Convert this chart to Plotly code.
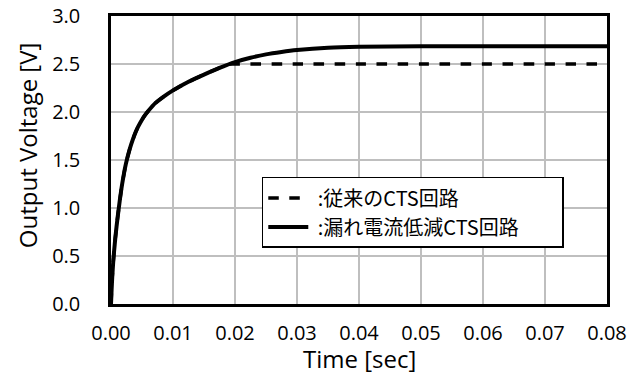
import plotly.graph_objects as go

# Time axis samples [sec] and output voltage [V]
t_solid = [0.0, 0.0001, 0.0002, 0.00035, 0.0005, 0.0007, 0.0009, 0.0011, 0.0014, 0.0018,
           0.0024, 0.003, 0.0035, 0.004, 0.0044, 0.005, 0.0054, 0.006, 0.0071, 0.0085,
           0.01, 0.0125, 0.015, 0.0175, 0.02, 0.0225, 0.025, 0.0275, 0.03, 0.035,
           0.04, 0.05, 0.06, 0.07, 0.08]
v_solid = [0.0, 0.15, 0.28, 0.43, 0.55, 0.69, 0.81, 0.92, 1.07, 1.25,
           1.46, 1.61, 1.71, 1.795, 1.85, 1.92, 1.96, 2.01, 2.09, 2.16,
           2.225, 2.315, 2.39, 2.46, 2.52, 2.565, 2.60, 2.625, 2.645, 2.67,
           2.68, 2.685, 2.685, 2.685, 2.685]

t_dash = [0.0, 0.0001, 0.0002, 0.00035, 0.0005, 0.0007, 0.0009, 0.0011, 0.0014, 0.0018,
          0.0024, 0.003, 0.0035, 0.004, 0.0044, 0.005, 0.0054, 0.006, 0.0071, 0.0085,
          0.01, 0.0125, 0.015, 0.0175, 0.019, 0.02, 0.03, 0.04, 0.05, 0.06, 0.07, 0.08]
v_dash = [0.0, 0.15, 0.28, 0.43, 0.55, 0.69, 0.81, 0.92, 1.07, 1.25,
          1.46, 1.61, 1.71, 1.795, 1.85, 1.92, 1.96, 2.01, 2.09, 2.16,
          2.225, 2.315, 2.39, 2.46, 2.5, 2.5, 2.5, 2.5, 2.5, 2.5, 2.5, 2.5]

pad = "\u3000\u00a0\u00a0\u00a0\u00a0"
name_dash = " :従来のCTS回路" + pad
name_solid = " :漏れ電流低減CTS回路" + pad

x_ticks = [0.0, 0.01, 0.02, 0.03, 0.04, 0.05, 0.06, 0.07, 0.08]
x_labels = ["0.00", "0.01", "0.02", "0.03", "0.04", "0.05", "0.06", "0.07", "0.08"]
y_ticks = [0.0, 0.5, 1.0, 1.5, 2.0, 2.5, 3.0]
y_labels = ["0.0", "0.5", "1.0", "1.5", "2.0", "2.5", "3.0"]
x_title = "Time [sec]"
y_title = "Output Voltage [V]"

fig = go.Figure()
fig.add_trace(go.Scatter(x=t_dash, y=v_dash, mode="lines", name=name_dash,
                         line=dict(color="black", width=3.5, dash="dash",
                                   shape="spline", smoothing=0.5)))
fig.add_trace(go.Scatter(x=t_solid, y=v_solid, mode="lines", name=name_solid,
                         line=dict(color="black", width=4, shape="spline", smoothing=0.5)))

tick_font = dict(family="Open Sans, sans-serif", size=20, color="black")
title_font = dict(family="Open Sans, sans-serif", size=24, color="black")

fig.update_layout(
    width=643, height=376,
    margin=dict(l=111, r=36, t=16, b=72),
    paper_bgcolor="white", plot_bgcolor="white",
    showlegend=True,
    legend=dict(x=0.304, y=0.441, xanchor="left", yanchor="top",
                bordercolor="black", borderwidth=1.5, bgcolor="white",
                font=dict(family="Noto Sans CJK JP, sans-serif", size=20, color="black"),
                tracegroupgap=0, itemwidth=40),
    xaxis=dict(range=[0, 0.08], tickvals=x_ticks, ticktext=x_labels,
               showgrid=True, gridcolor="#BFBFBF", gridwidth=1.5,
               showline=True, linecolor="black", linewidth=2.5, mirror=True,
               ticks="", ticklabelstandoff=9, tickfont=tick_font, zeroline=False,
               automargin=False, ticklabeloverflow="allow"),
    yaxis=dict(range=[0, 3.0], tickvals=y_ticks, ticktext=y_labels,
               showgrid=True, gridcolor="#BFBFBF", gridwidth=1.5,
               showline=True, linecolor="black", linewidth=2.5, mirror=True,
               ticks="", ticklabelstandoff=24, tickfont=tick_font, zeroline=False,
               automargin=False, ticklabeloverflow="allow"),
    annotations=[
        dict(text=x_title, xref="paper", yref="paper", x=0.5, y=-0.19,
             xanchor="center", yanchor="middle", showarrow=False, borderpad=0,
             font=title_font),
        dict(text=y_title, xref="paper", yref="paper", x=-0.169, y=0.552,
             xanchor="center", yanchor="middle", textangle=-90, showarrow=False,
             font=title_font),
    ],
)

fig.write_html("out.html",
               config={"displayModeBar": False},
               post_script="document.body.style.margin='0';document.body.style.padding='0';")
